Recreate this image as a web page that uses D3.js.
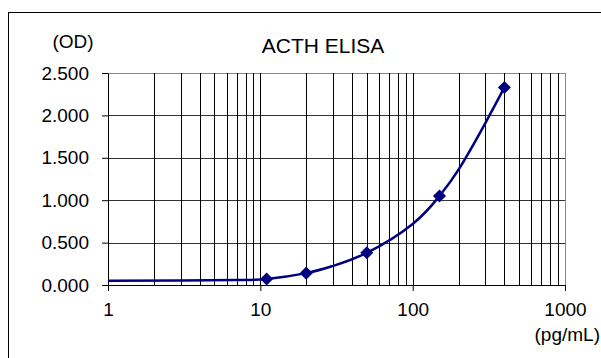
<!DOCTYPE html>
<html>
<head>
<meta charset="utf-8">
<script src="https://cdn.jsdelivr.net/npm/d3@7"></script>
<style>
  body { margin: 0; background: #fff; }
  text { font-family: "Liberation Sans", Arial, sans-serif; fill: #000; }
</style>
</head>
<body>
<div id="svg-container"></div>
<script>
// standaard punten (concentratie pg/mL, OD)
const standardConc = [11, 20, 50, 150, 400]
const standardOD = [0.07, 0.14, 0.38, 1.05, 2.33]

// gefitte curve
const curveConc = [1, 3, 7, 11, 20, 30, 50, 100, 150, 200, 300, 400]
const curveOD = [0.05, 0.054, 0.06, 0.07, 0.14, 0.225, 0.38, 0.72, 1.05, 1.36, 1.91, 2.33]

const yTicks = [0, 0.5, 1, 1.5, 2, 2.5]
const xTicks = [1, 10, 100, 1000]

const width = 601
const height = 358
const margin = { top: 73, right: 36, bottom: 73, left: 108 }
const innerWidth = width - margin.left - margin.right
const innerHeight = height - margin.top - margin.bottom

const svg = d3.select('#svg-container')
    .append('svg').attr('width', width).attr('height', height)

// buitenste kader
svg.append('rect')
    .attr('x', 8.5).attr('y', 12.5)
    .attr('width', 700).attr('height', 500)
    .attr('fill', 'none').attr('stroke', '#000').attr('stroke-width', 1)

const xScale = d3.scaleLog().domain([1, 1000]).range([0, innerWidth])
const yScale = d3.scaleLinear().domain([0, 2.5]).range([innerHeight, 0])

const g = svg.append('g')
    .attr('transform', `translate(${margin.left}, ${margin.top})`)

// alle minor waardes voor de verticale lijnen
const minorX = []
for (let d = 1; d < 1000; d *= 10) {
    for (let m = 1; m <= 9; m++) minorX.push(d * m)
}
minorX.push(1000)

// horizontale rasterlijnen
g.append('g').selectAll('line').data(yTicks.slice(1)).enter().append('line')
    .attr('x1', 0).attr('x2', innerWidth)
    .attr('y1', d => Math.round(yScale(d)) + 0.5).attr('y2', d => Math.round(yScale(d)) + 0.5)
    .attr('stroke', d => d === 2.5 ? '#888' : '#333')

// verticale rasterlijnen
g.append('g').selectAll('line').data(minorX.slice(1)).enter().append('line')
    .attr('x1', d => Math.round(xScale(d)) + 0.5).attr('x2', d => Math.round(xScale(d)) + 0.5)
    .attr('y1', 0).attr('y2', innerHeight)
    .attr('stroke', d => d === 1000 ? '#888' : '#000')

// y-as
const yAxis = g.append('g')
    .call(d3.axisLeft(yScale).tickValues(yTicks).tickFormat(d3.format('.3f'))
        .tickSize(6).tickPadding(13).tickSizeOuter(0))
yAxis.select('.domain').attr('stroke', '#000')
yAxis.selectAll('text').style('font-size', '19px')

// x-as
const xAxis = g.append('g')
    .attr('transform', `translate(0, ${innerHeight})`)
    .call(d3.axisBottom(xScale).tickValues(xTicks).tickFormat(d3.format('d'))
        .tickSize(6).tickPadding(12).tickSizeOuter(0))
xAxis.select('.domain').attr('stroke', '#000')
xAxis.selectAll('text').style('font-size', '19px')

// curve
const curveData = curveConc.map((c, i) => ({ c, od: curveOD[i] }))
const line = d3.line()
    .x(d => xScale(d.c))
    .y(d => yScale(d.od))
    .curve(d3.curveNatural)
g.append('path').datum(curveData)
    .attr('d', line)
    .attr('fill', 'none').attr('stroke', '#000080').attr('stroke-width', 2.5)

// punten (ruiten)
const points = standardConc.map((c, i) => ({ c, od: standardOD[i] }))
g.selectAll('.pt').data(points).enter().append('path')
    .attr('class', 'pt')
    .attr('d', d3.symbol().type(d3.symbolSquare).size(85))
    .attr('transform', d => `translate(${xScale(d.c)}, ${yScale(d.od)}) rotate(45)`)
    .attr('fill', '#000080')

// titels
svg.append('text').attr('x', 323).attr('y', 53).attr('text-anchor', 'middle')
    .style('font-size', '21px').text('ACTH ELISA')
svg.append('text').attr('x', 73).attr('y', 48).attr('text-anchor', 'middle')
    .style('font-size', '19px').text('(OD)')
svg.append('text').attr('x', 600).attr('y', 341).attr('text-anchor', 'end')
    .style('font-size', '19px').text('(pg/mL)')
</script>
</body>
</html>
